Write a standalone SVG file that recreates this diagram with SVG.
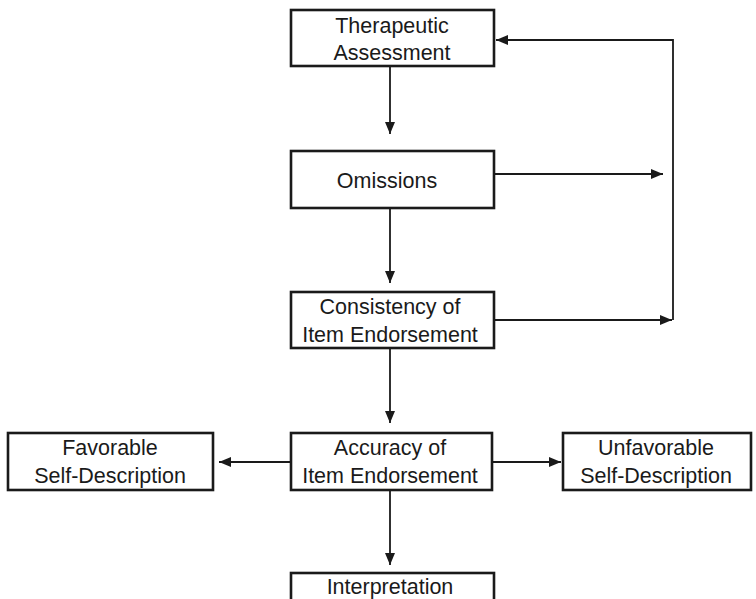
<svg xmlns="http://www.w3.org/2000/svg" width="756" height="599" viewBox="0 0 756 599">
<defs>
<marker id="ah" markerWidth="12" markerHeight="12" viewBox="0 0 12 10" refX="12" refY="5" orient="auto" markerUnits="userSpaceOnUse" overflow="visible">
<path d="M0,0 L12,5 L0,10 z" fill="#1a1a1a"/>
</marker>
<style>
.box{fill:#fff;stroke:#1a1a1a;stroke-width:2.6}
.t{font-family:"Liberation Sans",Arial,sans-serif;font-size:21.5px;fill:#1a1a1a;text-anchor:middle}
.c{fill:none;stroke:#1a1a1a;stroke-width:1.8}
.a{marker-end:url(#ah)}
</style>
</defs>
<rect width="756" height="599" fill="#fff"/>
<g id="connectors">
<line class="c a" x1="390" y1="67" x2="390" y2="134"/>
<line class="c a" x1="390" y1="209" x2="390" y2="283"/>
<line class="c a" x1="390" y1="349" x2="390" y2="423"/>
<line class="c a" x1="390" y1="490" x2="390" y2="565"/>
<line class="c a" x1="291" y1="462" x2="219" y2="462"/>
<line class="c a" x1="492" y1="462" x2="561" y2="462"/>
<line class="c a" x1="494" y1="174" x2="663" y2="174"/>
<line class="c a" x1="494" y1="320" x2="672" y2="320"/>
<polyline class="c a" points="673,320 673,40 496,40"/>
</g>
<g id="therapeutic">
<rect class="box" x="291" y="10" width="203" height="56"/>
<text class="t" x="392" y="33">Therapeutic</text>
<text class="t" x="392" y="60">Assessment</text>
</g>
<g id="omissions">
<rect class="box" x="291" y="151" width="203" height="57"/>
<text class="t" x="387" y="188">Omissions</text>
</g>
<g id="consistency">
<rect class="box" x="291" y="292" width="203" height="56"/>
<text class="t" x="390" y="314">Consistency of</text>
<text class="t" x="390" y="342">Item Endorsement</text>
</g>
<g id="accuracy">
<rect class="box" x="291" y="433" width="201" height="57"/>
<text class="t" x="390" y="455">Accuracy of</text>
<text class="t" x="390" y="483">Item Endorsement</text>
</g>
<g id="favorable">
<rect class="box" x="8" y="433" width="205" height="57"/>
<text class="t" x="110" y="455">Favorable</text>
<text class="t" x="110" y="483">Self-Description</text>
</g>
<g id="unfavorable">
<rect class="box" x="563" y="433" width="188" height="57"/>
<text class="t" x="656" y="455">Unfavorable</text>
<text class="t" x="656" y="483">Self-Description</text>
</g>
<g id="interpretation">
<rect class="box" x="291" y="573" width="203" height="40"/>
<text class="t" x="390" y="594">Interpretation</text>
</g>
</svg>
